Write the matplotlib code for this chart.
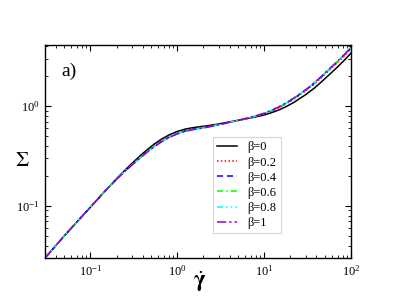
import matplotlib

matplotlib.use("Agg")
import matplotlib.pyplot as plt

# --- data (flow curves, log-log) ---
shear_rate = [0.03, 0.05, 0.1, 0.15, 0.2, 0.25, 0.3, 0.38, 0.45, 0.55, 0.65, 0.8, 1.0,
              1.25, 1.5, 1.75, 2.2, 3.0, 4.0, 5.0, 6.5, 8.0, 10, 12, 15, 18, 22, 30,
              38, 45, 55, 70, 85, 100]
sigma_b0 = [0.03, 0.05, 0.097, 0.143, 0.187, 0.228, 0.266, 0.322, 0.365, 0.420, 0.463,
            0.513, 0.557, 0.590, 0.607, 0.618, 0.635, 0.662, 0.695, 0.720, 0.752, 0.780,
            0.815, 0.855, 0.920, 0.990, 1.090, 1.300, 1.520, 1.730, 2.030, 2.470, 2.920,
            3.400]
sigma_b02 = [0.03, 0.05, 0.097, 0.143, 0.185, 0.223, 0.259, 0.311, 0.351, 0.401, 0.443,
             0.490, 0.535, 0.568, 0.588, 0.601, 0.621, 0.652, 0.689, 0.718, 0.755, 0.790,
             0.835, 0.885, 0.970, 1.055, 1.175, 1.420, 1.670, 1.910, 2.250, 2.730, 3.230,
             3.760]
sigma_b04 = [0.03, 0.05, 0.097, 0.143, 0.185, 0.223, 0.258, 0.309, 0.349, 0.399, 0.440,
             0.487, 0.532, 0.566, 0.586, 0.599, 0.619, 0.651, 0.688, 0.718, 0.756, 0.792,
             0.839, 0.893, 0.980, 1.069, 1.194, 1.443, 1.702, 1.946, 2.294, 2.791, 3.300,
             3.842]
sigma_b06 = [0.03, 0.05, 0.097, 0.143, 0.185, 0.223, 0.258, 0.308, 0.348, 0.398, 0.439,
             0.486, 0.531, 0.565, 0.585, 0.598, 0.618, 0.651, 0.689, 0.720, 0.759, 0.796,
             0.843, 0.898, 0.985, 1.075, 1.200, 1.450, 1.710, 1.955, 2.305, 2.805, 3.315,
             3.860]
sigma_b08 = [0.03, 0.05, 0.097, 0.143, 0.185, 0.222, 0.256, 0.306, 0.345, 0.395, 0.436,
             0.482, 0.527, 0.561, 0.581, 0.594, 0.614, 0.649, 0.688, 0.720, 0.760, 0.798,
             0.846, 0.900, 0.988, 1.078, 1.204, 1.455, 1.716, 1.962, 2.312, 2.813, 3.326,
             3.872]
sigma_b1 = [0.03, 0.05, 0.097, 0.143, 0.185, 0.222, 0.256, 0.305, 0.345, 0.394, 0.435,
            0.482, 0.526, 0.560, 0.580, 0.593, 0.613, 0.649, 0.688, 0.721, 0.761, 0.800,
            0.848, 0.902, 0.990, 1.080, 1.206, 1.458, 1.719, 1.966, 2.317, 2.819, 3.333,
            3.880]

labels = ["β=0", "β=0.2", "β=0.4", "β=0.6", "β=0.8", "β=1"]
series = [sigma_b0, sigma_b02, sigma_b04, sigma_b06, sigma_b08, sigma_b1]
colors = ["black", "#ff0000", "#0000ff", "#00ff00", "#00ffff", "#9400d3"]
styles = ["-", (0, (1, 1.5)), (0, (4, 2.5)), (0, (4, 2, 1, 2)),
          (0, (4, 2, 1, 2, 1, 2)), (0, (6, 2, 1.5, 2))]

plt.rcParams["font.family"] = ["Liberation Serif", "DejaVu Serif"]
plt.rcParams["mathtext.fontset"] = "stix"

fig = plt.figure(figsize=(3.95, 3.05), dpi=100)
ax = fig.add_axes([0.1139, 0.1541, 0.7747, 0.6984])

for y, lab, c, ls in zip(series, labels, colors, styles):
    ax.plot(shear_rate, y, color=c, ls=ls, lw=1.1, label=lab)

ax.set_xscale("log")
ax.set_yscale("log")
ax.set_xlim(0.03, 100)
ax.set_ylim(0.03, 4.1)

ax.tick_params(which="both", direction="in", top=True, right=True, labelsize=9, pad=4)
ax.tick_params(which="major", length=4.5, width=0.8)
ax.tick_params(which="minor", length=2.5, width=0.6)
for s in ax.spines.values():
    s.set_linewidth(1.0)

ax.text(-0.075, 0.455, r"$\Sigma$", transform=ax.transAxes, fontsize=15,
        ha="center", va="center")
ax.text(0.505, -0.11, r"$\dot{\mathbf{\gamma}}$", transform=ax.transAxes, fontsize=16,
        ha="center", va="center")

ax.text(0.055, 0.875, "a)", transform=ax.transAxes, fontsize=14, va="center")

leg = ax.legend(loc="upper left", bbox_to_anchor=(0.549, 0.568), fontsize=9,
                frameon=True, fancybox=False, handlelength=1.6, handletextpad=0.8,
                labelspacing=0.25, borderpad=0.35, borderaxespad=0)
leg.get_frame().set_edgecolor("#cccccc")
leg.get_frame().set_linewidth(0.8)

fig.savefig("out.png", dpi=100)
